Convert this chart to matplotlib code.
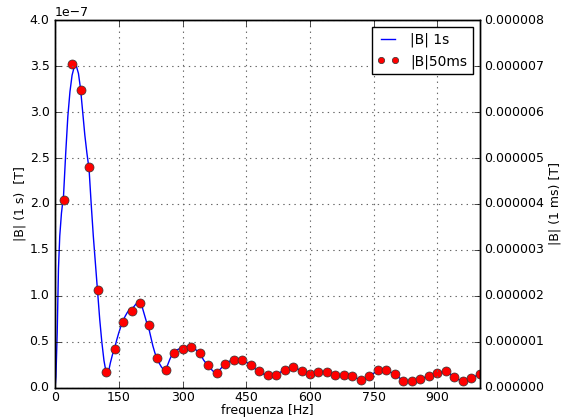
import matplotlib
matplotlib.use("Agg")
import matplotlib.pyplot as plt
import numpy as np
from matplotlib.ticker import FormatStrFormatter

plt.style.use('classic')

# values in units of 1e-7 T
freq_1s = [0, 2, 5, 8, 11, 15, 20, 25, 30, 35, 40, 45, 50, 55, 60, 65, 70, 75, 80, 85,
           90, 95, 100, 105, 110, 115, 120, 123, 126, 130, 135, 140, 145, 150, 155, 160,
           165, 170, 175, 180, 185, 190, 195, 200, 205, 210, 215, 220, 225, 230, 235, 240,
           245, 250, 255, 260, 265, 270, 275, 280, 285, 290, 295, 300, 305, 310, 315, 320,
           325, 330, 335, 340, 345, 350, 355, 360, 365, 370, 375, 380,
           390, 400, 410, 420, 430, 440, 450, 460, 470, 480, 490, 500, 510, 520, 530, 540,
           550, 560, 570, 580, 590, 600, 610, 620, 630, 640, 650, 660, 670, 680, 690, 700,
           710, 720, 730, 740, 750, 760, 770, 780, 790, 800, 810, 820, 830, 840, 850, 860,
           870, 880, 890, 900, 910, 920, 930, 940, 950, 960, 970, 980, 990, 1000]
B_1s = [0, 0.12, 0.6, 1.3, 1.65, 1.9, 2.1, 2.55, 2.95, 3.22, 3.4, 3.49, 3.5, 3.42, 3.25,
        3.0, 2.75, 2.55, 2.38, 2.0, 1.65, 1.35, 1.05, 0.75, 0.5, 0.3, 0.17, 0.14, 0.18,
        0.27, 0.36, 0.43, 0.52, 0.60, 0.67, 0.73, 0.78, 0.82, 0.85, 0.86, 0.88, 0.91,
        0.93, 0.92, 0.88, 0.80, 0.72, 0.66, 0.56, 0.46, 0.38, 0.32, 0.27, 0.23, 0.2, 0.2,
        0.25, 0.31, 0.36, 0.39, 0.41, 0.42, 0.43, 0.43, 0.44, 0.45, 0.46, 0.45, 0.44,
        0.42, 0.40, 0.38, 0.34, 0.30, 0.27, 0.25, 0.22, 0.19, 0.17, 0.16,
        0.21, 0.26, 0.29, 0.30, 0.31, 0.30, 0.28, 0.25, 0.21, 0.18, 0.15, 0.14, 0.135,
        0.14, 0.17, 0.20, 0.22, 0.23, 0.21, 0.18, 0.16, 0.15, 0.16, 0.17, 0.175, 0.175,
        0.16, 0.14, 0.135, 0.135, 0.13, 0.125, 0.105, 0.09, 0.10, 0.125, 0.16, 0.19,
        0.195, 0.19, 0.17, 0.15, 0.11, 0.08, 0.07, 0.07, 0.085, 0.10, 0.115, 0.13, 0.15,
        0.16, 0.17, 0.18, 0.15, 0.12, 0.09, 0.07, 0.09, 0.11, 0.13, 0.15]

freq_50ms = list(range(20, 1001, 20))
B_50ms = [2.04, 3.52, 3.24, 2.40, 1.07, 0.17, 0.42, 0.72, 0.84, 0.92, 0.68, 0.33, 0.20,
          0.38, 0.42, 0.45, 0.38, 0.25, 0.16, 0.26, 0.30, 0.30, 0.25, 0.18, 0.14, 0.14,
          0.20, 0.23, 0.18, 0.15, 0.17, 0.175, 0.14, 0.135, 0.125, 0.09, 0.125, 0.19,
          0.19, 0.15, 0.08, 0.07, 0.10, 0.13, 0.16, 0.18, 0.12, 0.07, 0.11, 0.15]
unit = 1e-7

fig = plt.figure(figsize=(5.62, 4.18), dpi=100)
fig.patch.set_facecolor('white')
ax = fig.add_axes([0.098, 0.072, 0.756, 0.88])

ax.plot(np.array(freq_1s), np.array(B_1s) * unit, 'b-', lw=1, label='|B| 1s')
ax.plot(np.array(freq_50ms), np.array(B_50ms) * unit, 'o', color='red', mec='0.2',
        mew=0.5, ms=6.5, label='|B|50ms')

ax.set_xlim(0, 1000)
ax.set_ylim(0, 4e-7)
ax.set_xticks(range(0, 1000, 150))
ax.set_yticks(np.arange(0, 4.01, 0.5) * unit)
ax.grid(True, color='0.4', linestyle=':', linewidth=0.8)
ax.tick_params(labelsize=9, direction='in')
ax.tick_params(axis='x', pad=2)
ax.yaxis.get_offset_text().set_fontsize(9)
ax.set_xlabel('frequenza [Hz]', fontsize=9, labelpad=0)
ax.set_ylabel('|B| (1 s)  [T]', fontsize=9, labelpad=2)

ax2 = ax.twinx()
ax2.set_ylim(0, 8e-6)
ax2.set_yticks(np.arange(0, 8.01, 1) * 1e-6)
ax2.yaxis.set_major_formatter(FormatStrFormatter('%.6f'))
ax2.tick_params(labelsize=9, direction='in', pad=3)
ax2.set_ylabel('|B| (1 ms) [T]', fontsize=9, labelpad=3)

leg = ax.legend(loc='upper right', fontsize=10, numpoints=2, fancybox=False,
                handlelength=1.6, markerscale=0.7)
leg.get_frame().set_linewidth(1)

fig.savefig('out.png', dpi=100, facecolor='white')
